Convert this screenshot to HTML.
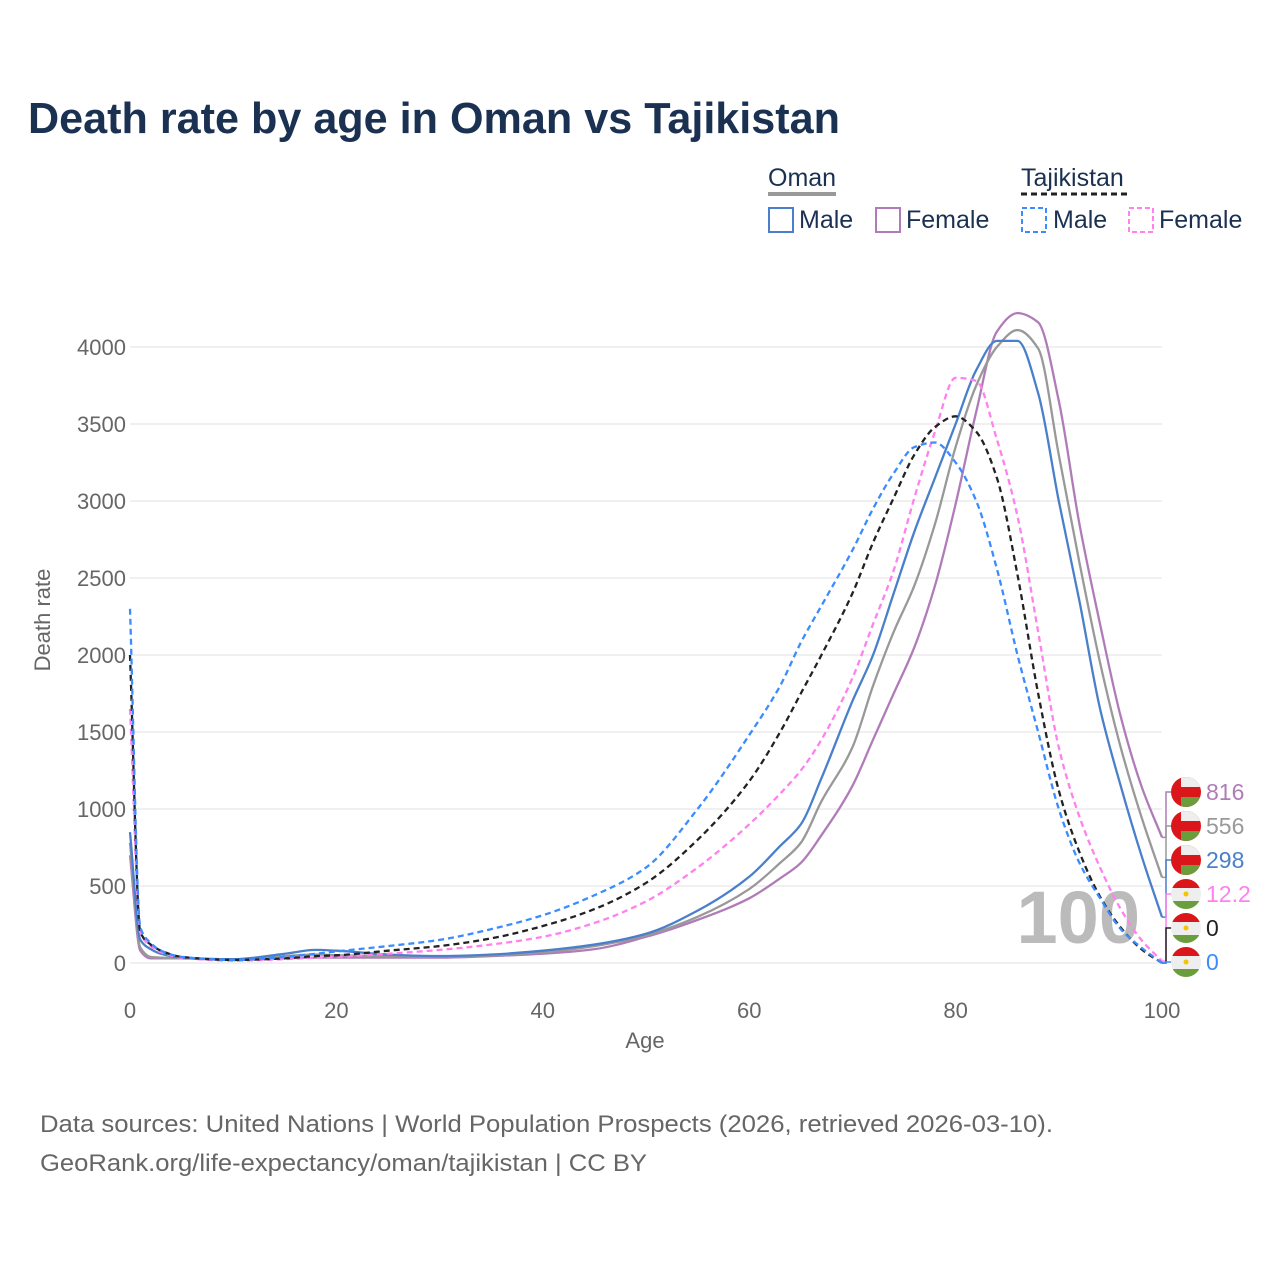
<!DOCTYPE html>
<html><head><meta charset="utf-8"><style>
body{margin:0;background:#fff;font-family:"Liberation Sans",sans-serif;}
svg text{font-family:"Liberation Sans",sans-serif;}
</style></head><body>
<svg id="chart" width="1280" height="1280" viewBox="0 0 1280 1280">
<text x="28" y="133" font-size="44" font-weight="bold" fill="#1b3152" textLength="812" lengthAdjust="spacingAndGlyphs">Death rate by age in Oman vs Tajikistan</text>
<g font-size="25" fill="#1b3152">
<text x="768" y="186">Oman</text>
<line x1="768" y1="194" x2="836" y2="194" stroke="#999" stroke-width="4"/>
<text x="1021" y="186">Tajikistan</text>
<line x1="1021" y1="194" x2="1128" y2="194" stroke="#222" stroke-width="3" stroke-dasharray="6,4"/>
<g><rect x="769" y="208" width="24" height="24" fill="none" stroke="#4a7fcb" stroke-width="2"/><text x="799" y="228">Male</text></g>
<g><rect x="876" y="208" width="24" height="24" fill="none" stroke="#b07cb8" stroke-width="2"/><text x="906" y="228">Female</text></g>
<g><rect x="1022" y="208" width="24" height="24" fill="none" stroke="#3a8cff" stroke-width="2" stroke-dasharray="5,3"/><text x="1053" y="228">Male</text></g>
<g><rect x="1129" y="208" width="24" height="24" fill="none" stroke="#ff80ee" stroke-width="2" stroke-dasharray="5,3"/><text x="1159" y="228">Female</text></g>
</g>
<g id="grid"></g>
<text x="1140" y="943" font-size="74" font-weight="bold" fill="#bbb" text-anchor="end">100</text>
<g id="series"></g>
<g id="ends"></g>
<text x="645" y="1048" font-size="22" fill="#666" text-anchor="middle">Age</text>
<text transform="translate(50,620) rotate(-90)" font-size="22" fill="#666" text-anchor="middle">Death rate</text>
<text x="40" y="1132" font-size="24" fill="#666" textLength="1013" lengthAdjust="spacingAndGlyphs">Data sources: United Nations | World Population Prospects (2026, retrieved 2026-03-10).</text>
<text x="40" y="1171" font-size="24" fill="#666" textLength="607" lengthAdjust="spacingAndGlyphs">GeoRank.org/life-expectancy/oman/tajikistan | CC BY</text>
</svg>
<script>
const ages=[0,1,2,3,5,10,15,18,20,25,30,35,40,45,50,55,60,63,65,67,70,72,74,76,78,80,82,84,86,88,90,92,94,96,98,100];
const omanFemale=[700,80,30,30,30,20,30,35,35,35,35,45,60,90,170,280,420,550,650,830,1150,1450,1750,2050,2450,2980,3580,4100,4220,4160,3650,2850,2200,1600,1150,816];
const omanTotal=[780,100,40,35,30,22,45,55,50,45,40,50,70,110,180,300,480,650,780,1050,1400,1800,2150,2450,2850,3350,3750,4000,4110,3990,3300,2600,1950,1400,950,556];
const omanMale=[850,150,90,60,35,25,60,85,80,55,45,55,80,120,190,340,560,760,900,1200,1700,2000,2400,2800,3150,3500,3850,4040,4040,3700,3000,2350,1650,1150,700,298];
const tajFemale=[1650,200,110,70,35,15,25,35,40,60,85,120,170,260,400,620,900,1100,1250,1450,1850,2200,2550,3020,3450,3800,3780,3400,2900,2150,1400,950,620,350,150,12.2];
const tajTotal=[2000,200,120,80,40,20,30,45,50,80,110,160,240,350,520,800,1180,1500,1750,2000,2400,2730,3020,3300,3480,3550,3450,3150,2520,1750,1120,720,430,230,90,0];
const tajMale=[2300,230,130,80,40,20,40,60,75,110,150,220,310,440,620,1000,1480,1800,2080,2320,2680,2950,3180,3350,3380,3250,3000,2560,2000,1500,1000,650,420,220,100,0];
const yTicks=[0,500,1000,1500,2000,2500,3000,3500,4000];
const xTicks=[0,20,40,60,80,100];
const endLabels=["816","556","298","12.2","0","0"];
const NS="http://www.w3.org/2000/svg";
const X=a=>130+a*10.32, Y=v=>963-v*0.154;
function mk(t,at,parent){const e=document.createElementNS(NS,t);for(const k in at)e.setAttribute(k,at[k]);parent.appendChild(e);return e;}
const grid=document.getElementById('grid');
yTicks.forEach(v=>{
 const l=mk('line',{x1:130,x2:1162,y1:Y(v),y2:Y(v),stroke:'#ebebeb','stroke-width':1.5},grid);
 
 
 const t=mk('text',{x:126,y:Y(v)+8,'font-size':22,fill:'#666','text-anchor':'end'},grid);t.textContent=v;
 
 
});
xTicks.forEach(v=>{
 const t=mk('text',{x:X(v),y:1018,'font-size':22,fill:'#666','text-anchor':'middle'},grid);t.textContent=v;
 
 
});
function path(vals){
 const xs=ages.map(X), ys=vals.map(Y), n=xs.length;
 const d=[],m=new Array(n);
 for(let i=0;i<n-1;i++)d.push((ys[i+1]-ys[i])/(xs[i+1]-xs[i]));
 m[0]=d[0];m[n-1]=d[n-2];
 for(let i=1;i<n-1;i++){
  if(d[i-1]*d[i]<=0)m[i]=0;
  else{const h0=xs[i]-xs[i-1],h1=xs[i+1]-xs[i];const w1=2*h1+h0,w2=h1+2*h0;m[i]=(w1+w2)/(w1/d[i-1]+w2/d[i]);}
 }
 let s='M'+xs[0]+','+ys[0];
 for(let i=0;i<n-1;i++){
  const h=(xs[i+1]-xs[i])/3;
  s+=`C${xs[i]+h},${ys[i]+m[i]*h} ${xs[i+1]-h},${ys[i+1]-m[i+1]*h} ${xs[i+1]},${ys[i+1]}`;
 }
 return s;
}
const S=document.getElementById('series');
const defs=[
 [omanFemale,'#b07cb8',null,'line-oman-female'],
 [omanTotal,'#999',null,'line-oman-total'],
 [omanMale,'#4a7fcb',null,'line-oman-male'],
 [tajFemale,'#ff80ee','6,4','line-tajikistan-female'],
 [tajTotal,'#222','6,4','line-tajikistan-total'],
 [tajMale,'#3a8cff','6,4','line-tajikistan-male']];
defs.forEach(([v,c,da,n])=>{
 const a={d:path(v),fill:'none',stroke:c,'stroke-width':2.3};
 if(da)a['stroke-dasharray']=da;
 const e=mk('path',a,S);
 
 
});
const E=document.getElementById('ends');
const ly=[792,826,860,894,928,962];
defs.forEach(([v,c],i)=>{
 const yv=Y(v[v.length-1]);
 mk('path',{d:`M1162,${yv} L1166,${yv} L1166,${ly[i]} L1172,${ly[i]}`,fill:'none',stroke:c,'stroke-width':1.5},E);
 const g=mk('g',{},E);
 
 
 const cx=1186,cy=ly[i],r=15;
 const cid='c'+i;
 const cp=mk('clipPath',{id:cid},g);mk('circle',{cx,cy,r},cp);
 const f=mk('g',{'clip-path':`url(#${cid})`},g);
 if(i<3){
  mk('rect',{x:cx-r,y:cy-r,width:2*r,height:2*r,fill:'#db161b'},f);
  mk('rect',{x:cx-5,y:cy-r,width:r+5,height:10,fill:'#eee'},f);
  mk('rect',{x:cx-5,y:cy+5,width:r+5,height:10,fill:'#6a9e3c'},f);
 }else{
  mk('rect',{x:cx-r,y:cy-r,width:2*r,height:9,fill:'#db161b'},f);
  mk('rect',{x:cx-r,y:cy-6,width:2*r,height:13,fill:'#eee'},f);
  mk('rect',{x:cx-r,y:cy+7,width:2*r,height:9,fill:'#6a9e3c'},f);
  mk('circle',{cx,cy,r:2.5,fill:'#f5c400'},f);
 }
 const t=mk('text',{x:1206,y:ly[i]+8,'font-size':23,fill:c},E);t.textContent=endLabels[i];
 
 
});
</script>
</body></html>
